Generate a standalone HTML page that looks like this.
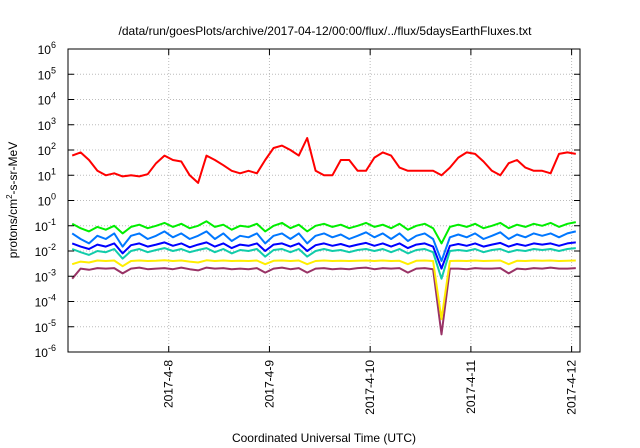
<!DOCTYPE html>
<html><head><meta charset="utf-8"><style>
html,body{margin:0;padding:0;background:#fff;}
svg{display:block;font-family:"Liberation Sans",sans-serif;}
</style></head><body>
<svg id="chart" width="640" height="448" viewBox="0 0 640 448">
<text x="325" y="35" font-size="12" text-anchor="middle">/data/run/goesPlots/archive/2017-04-12/00:00/flux/../flux/5daysEarthFluxes.txt</text>
<text x="324" y="442" font-size="12" text-anchor="middle">Coordinated Universal Time (UTC)</text>
<text transform="translate(17,200) rotate(-90)" font-size="12" text-anchor="middle">protons/cm<tspan dy="-5" font-size="8">2</tspan><tspan dy="5">-s-sr-MeV</tspan></text>
<g id="grid"></g>
<g id="series"></g>
<g id="axes"></g>
</svg>
<script>
const xTickLabels = ["2017-4-8","2017-4-9","2017-4-10","2017-4-11","2017-4-12"];
const xTickHours = [23,47,71,95,119];
const yTickExps = [-6,-5,-4,-3,-2,-1,0,1,2,3,4,5,6];
const hourStep = 2;
const red = [60,80,40,15,10,12,9,10,9,11,30,60,40,35,10,5,60,40,25,15,12,15,12,40,120,150,100,60,300,15,10,10,40,40,15,15,50,80,60,20,15,15,15,15,10,20,50,80,70,35,15,10,30,40,20,15,15,12,70,80,70];
const green = [0.12,0.08,0.06,0.09,0.07,0.1,0.05,0.09,0.11,0.08,0.1,0.13,0.09,0.12,0.08,0.1,0.15,0.09,0.11,0.07,0.1,0.09,0.12,0.06,0.1,0.13,0.08,0.11,0.06,0.1,0.12,0.09,0.11,0.08,0.1,0.13,0.09,0.11,0.08,0.12,0.07,0.1,0.12,0.08,0.02,0.09,0.11,0.09,0.12,0.08,0.1,0.13,0.08,0.11,0.09,0.12,0.1,0.13,0.09,0.12,0.14];
const lightBlue = [0.05,0.03,0.02,0.04,0.03,0.05,0.015,0.04,0.05,0.03,0.04,0.06,0.035,0.05,0.03,0.04,0.06,0.03,0.05,0.025,0.04,0.035,0.05,0.02,0.04,0.05,0.03,0.05,0.02,0.04,0.05,0.035,0.045,0.03,0.04,0.055,0.035,0.05,0.03,0.05,0.025,0.04,0.05,0.03,0.004,0.035,0.045,0.035,0.05,0.03,0.04,0.055,0.03,0.045,0.035,0.05,0.04,0.05,0.035,0.05,0.06];
const blue = [0.02,0.015,0.012,0.018,0.015,0.02,0.008,0.017,0.02,0.015,0.018,0.022,0.016,0.02,0.014,0.018,0.022,0.015,0.02,0.013,0.018,0.016,0.02,0.01,0.018,0.02,0.015,0.02,0.01,0.017,0.02,0.016,0.019,0.015,0.018,0.021,0.016,0.02,0.015,0.02,0.013,0.018,0.02,0.015,0.002,0.016,0.019,0.016,0.02,0.015,0.018,0.021,0.015,0.019,0.016,0.02,0.018,0.02,0.016,0.02,0.022];
const teal = [0.012,0.009,0.007,0.01,0.009,0.012,0.005,0.01,0.012,0.009,0.011,0.013,0.01,0.012,0.009,0.011,0.013,0.009,0.012,0.008,0.011,0.01,0.012,0.006,0.011,0.012,0.009,0.012,0.006,0.01,0.012,0.01,0.011,0.009,0.011,0.012,0.01,0.012,0.009,0.012,0.008,0.011,0.012,0.009,0.0008,0.01,0.011,0.01,0.012,0.009,0.011,0.012,0.009,0.011,0.01,0.012,0.011,0.012,0.01,0.012,0.013];
const yellow = [0.003,0.0038,0.0035,0.0042,0.004,0.0042,0.0025,0.004,0.0042,0.004,0.0041,0.0043,0.004,0.0042,0.0038,0.0035,0.0043,0.004,0.0042,0.004,0.0041,0.004,0.0042,0.003,0.0041,0.0042,0.004,0.0042,0.003,0.004,0.0042,0.004,0.0041,0.004,0.0041,0.0042,0.004,0.0042,0.004,0.0041,0.003,0.0041,0.0042,0.004,0.00002,0.004,0.0041,0.004,0.0042,0.004,0.0041,0.0042,0.003,0.0041,0.004,0.0042,0.0041,0.0042,0.004,0.0041,0.0042];
const purple = [0.0008,0.002,0.0018,0.0021,0.002,0.0021,0.0013,0.002,0.0022,0.0019,0.002,0.0021,0.0019,0.0022,0.0019,0.0017,0.0022,0.002,0.0021,0.0019,0.002,0.0019,0.0021,0.0014,0.002,0.0022,0.0019,0.0021,0.0014,0.002,0.0021,0.0019,0.002,0.0019,0.0021,0.0022,0.0019,0.0021,0.002,0.0021,0.0014,0.002,0.0021,0.0019,0.000005,0.002,0.002,0.0019,0.0021,0.002,0.002,0.0021,0.0013,0.002,0.0019,0.0021,0.002,0.0022,0.002,0.002,0.0021];
const seriesList = [["purple-series",purple,"#993366"],["yellow-series",yellow,"#ffee00"],["teal-series",teal,"#11ccaa"],["blue-series",blue,"#0000ff"],["light-blue-series",lightBlue,"#0077ff"],["green-series",green,"#00ee00"],["red-series",red,"#ff0000"]];

const L=68,R=580,T=49,B=352, H0=-1, H1=121, E0=-6, E1=6;
const NS="http://www.w3.org/2000/svg";
function xs(h){return L+(h-H0)/(H1-H0)*(R-L);}
function ys(v){return B-(Math.log10(v)-E0)/(E1-E0)*(B-T);}
function mk(tag,attrs,parent){const e=document.createElementNS(NS,tag);for(const k in attrs)e.setAttribute(k,attrs[k]);parent.appendChild(e);return e;}
const grid=document.getElementById('grid'),axes=document.getElementById('axes'),ser=document.getElementById('series');
yTickExps.forEach(ex=>{
  const y=ys(Math.pow(10,ex));
  if(ex>E0&&ex<E1){const g=mk('line',{x1:L,x2:R,y1:y,y2:y,stroke:'#bbb','stroke-dasharray':'1,2','stroke-width':1},grid);
  
  }
  const t1=mk('line',{x1:L,x2:L+6,y1:y,y2:y,stroke:'#000'},axes);
  
  
  const t2=mk('line',{x1:R-6,x2:R,y1:y,y2:y,stroke:'#000'},axes);
  
  
  const tx=mk('text',{x:L-12,y:y+5,'font-size':12,'text-anchor':'end'},axes);
  
  
  tx.textContent='10';
  const sp=mk('tspan',{dy:-6,'font-size':9},tx);sp.textContent=String(ex);
});
xTickHours.forEach((h,i)=>{
  const x=xs(h);
  const g=mk('line',{x1:x,x2:x,y1:T,y2:B,stroke:'#bbb','stroke-dasharray':'1,2'},grid);
  
  
  const t1=mk('line',{x1:x,x2:x,y1:B-6,y2:B,stroke:'#000'},axes);
  
  
  const t2=mk('line',{x1:x,x2:x,y1:T,y2:T+6,stroke:'#000'},axes);
  
  
  const tx=mk('text',{transform:`translate(${x+4},360) rotate(-90)`,'font-size':12,'text-anchor':'end'},axes);
  
  
  tx.textContent=xTickLabels[i];
});
const fr=mk('rect',{x:L,y:T,width:R-L,height:B-T,fill:'none',stroke:'#000','stroke-width':1},axes);


seriesList.forEach(s=>{
  const pts=s[1].map((v,i)=>xs(i*hourStep).toFixed(1)+','+ys(v).toFixed(1)).join(' ');
  const p=mk('polyline',{points:pts,fill:'none',stroke:s[2],'stroke-width':2,'stroke-linejoin':'round'},ser);
  
  
});
</script>
</body></html>
